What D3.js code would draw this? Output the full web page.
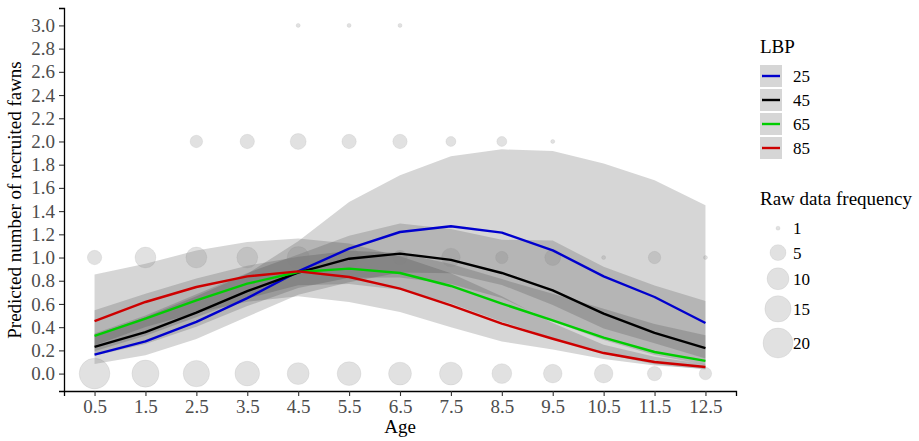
<!DOCTYPE html>
<html><head><meta charset="utf-8">
<script src="https://cdn.jsdelivr.net/npm/d3@7"></script>
<style>
body{margin:0;background:#fff;}
svg text{font-family:"Liberation Serif","Times New Roman",Times,serif !important;}
</style></head>
<body><svg id="c" width="919" height="441" font-family="Liberation Serif"></svg>
<script>
const ages = [0.5,1.5,2.5,3.5,4.5,5.5,6.5,7.5,8.5,9.5,10.5,11.5,12.5];
const lbpLevels = ["25","45","65","85"];
const lbpColors = ["#0000CD","#000000","#00CD00","#CD0000"];
const fit25 = [0.164,0.278,0.445,0.65,0.88,1.077,1.22,1.27,1.215,1.062,0.838,0.66,0.436];
const fit45 = [0.23,0.358,0.525,0.71,0.87,0.99,1.034,0.98,0.867,0.717,0.517,0.35,0.22];
const fit65 = [0.324,0.474,0.631,0.775,0.875,0.904,0.867,0.755,0.603,0.459,0.31,0.186,0.109];
const fit85 = [0.453,0.617,0.746,0.838,0.881,0.832,0.732,0.588,0.43,0.30,0.177,0.10,0.057];
const lo25 = [0.082,0.159,0.297,0.49,0.68,0.786,0.871,0.864,0.764,0.59,0.388,0.262,0.131];
const hi25 = [0.328,0.487,0.667,0.86,1.14,1.478,1.708,1.872,1.932,1.917,1.81,1.665,1.45];
const lo45 = [0.153,0.256,0.404,0.582,0.737,0.825,0.827,0.772,0.652,0.448,0.29,0.161,0.077];
const hi45 = [0.345,0.501,0.683,0.866,1.027,1.188,1.293,1.245,1.153,1.147,0.92,0.76,0.625];
const lo65 = [0.193,0.327,0.485,0.646,0.761,0.773,0.723,0.604,0.447,0.306,0.172,0.081,0.036];
const hi65 = [0.545,0.687,0.82,0.93,1.006,1.058,1.04,0.944,0.814,0.689,0.558,0.428,0.33];
const lo85 = [0.241,0.402,0.525,0.62,0.667,0.617,0.53,0.40,0.277,0.207,0.126,0.069,0.041];
const hi85 = [0.853,0.947,1.06,1.134,1.163,1.12,1.01,0.864,0.667,0.435,0.248,0.145,0.08];
const fits = [fit25,fit45,fit65,fit85];
const los = [lo25,lo45,lo65,lo85];
const his = [hi25,hi45,hi65,hi85];
// raw data: frequency of observed recruited fawns per age
const freqAt0 = [21,16,15,13,10,12,11,11,8,7,7,4,3];
const freqAt1 = [4,9,9,9,10,8,4,7,3,5,1,3,1];
const ages2 = [2.5,3.5,4.5,5.5,6.5,7.5,8.5,9.5];
const freqAt2 = [3,4,5,4,4,2,2,1];
const ages3 = [4.5,5.5,6.5];
const freqAt3 = [1,1,1];
const yTicks = d3.range(0,3.01,0.2);
const sizeBreaks = [1,5,10,15,20];

const FONT = '"Liberation Serif", "Times New Roman", serif';
const svg = d3.select("#c");
const x = d3.scaleLinear().domain([-0.1,13.1]).range([64,736]);
const y = d3.scaleLinear().domain([-0.15,3.15]).range([391,8]);
const r = v => 2 + 13*Math.sqrt((v-1)/19);

// ribbons
const area = d3.area().x((d,i)=>x(ages[i])).y0(d=>y(d[0])).y1(d=>y(d[1]));
for (let k=0;k<4;k++){
  const pts = ages.map((a,i)=>[los[k][i],his[k][i]]);
  svg.append("path").attr("d",area(pts)).attr("fill","#333").attr("fill-opacity",0.2);
}
// raw points
const raw = [];
ages.forEach((a,i)=>{raw.push([a,0,freqAt0[i]]);raw.push([a,1,freqAt1[i]]);});
ages2.forEach((a,i)=>raw.push([a,2,freqAt2[i]]));
ages3.forEach((a,i)=>raw.push([a,3,freqAt3[i]]));
svg.append("g").selectAll("circle").data(raw).join("circle")
  .attr("cx",d=>x(d[0])).attr("cy",d=>y(d[1])).attr("r",d=>r(d[2]))
  .attr("fill","#808080").attr("fill-opacity",0.24)
  .attr("stroke","#808080").attr("stroke-opacity",0.12).attr("stroke-width",1);
// lines
const line = d3.line().x((d,i)=>x(ages[i])).y(d=>y(d));
for (let k=0;k<4;k++){
  svg.append("path").attr("d",line(fits[k])).attr("fill","none")
    .attr("stroke",lbpColors[k]).attr("stroke-width",2.4).attr("stroke-linejoin","round");
}
// axes
const xa = svg.append("g").attr("transform","translate(0,391)")
  .call(d3.axisBottom(x).tickValues(ages).tickFormat(d3.format(".1f")).tickSizeOuter(0).tickSize(5).tickPadding(4));
const ya = svg.append("g").attr("transform","translate(64,0)")
  .call(d3.axisLeft(y).tickValues(yTicks).tickFormat(d3.format(".1f")).tickSizeOuter(0).tickSize(5).tickPadding(4));
[xa,ya].forEach(g=>{
  g.attr("font-family",FONT).attr("font-size",19);
  g.select(".domain").attr("stroke","#000").attr("stroke-width",1.3);
  g.selectAll(".tick line").attr("stroke","#333").attr("stroke-width",1.1);
  g.selectAll(".tick text").attr("fill","#4d4d4d").attr("font-family",FONT).attr("font-size",19);
});
function txt(xp,yp,s,size){
  return svg.append("text").attr("x",xp).attr("y",yp).attr("font-family",FONT).attr("font-size",size).attr("fill","#000").text(s);
}
txt(400,433,"Age",19).attr("text-anchor","middle");
txt(0,0,"Predicted number of recruited fawns",19).attr("text-anchor","middle")
  .attr("transform","translate(21,200) rotate(-90)");

// legend LBP
txt(760,53,"LBP",19);
lbpLevels.forEach((l,i)=>{
  const ty = 65 + i*24;
  svg.append("rect").attr("x",760).attr("y",ty).attr("width",22).attr("height",22).attr("fill","#d6d6d6");
  svg.append("line").attr("x1",762).attr("x2",780).attr("y1",ty+11).attr("y2",ty+11)
    .attr("stroke",lbpColors[i]).attr("stroke-width",2.4);
  txt(793,ty+17,l,17);
});
// legend size
txt(760,205,"Raw data frequency",19);
let cy = 216;
sizeBreaks.forEach((b,i)=>{
  const h = Math.max(24.4, 2*r(b)+6);
  const c = cy + h/2;
  svg.append("circle").attr("cx",778).attr("cy",c).attr("r",r(b))
    .attr("fill","#808080").attr("fill-opacity",0.24).attr("stroke","#808080").attr("stroke-opacity",0.12);
  txt(793,c+6,String(b),17);
  cy += h;
});
</script></body></html>
